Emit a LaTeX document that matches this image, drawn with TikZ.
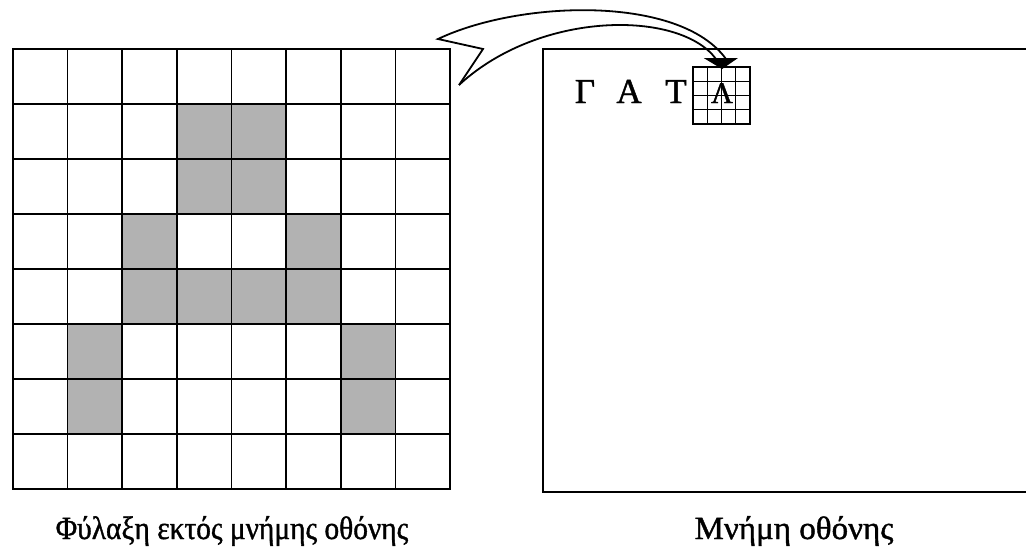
\documentclass[tikz,border=0pt]{standalone}
\usepackage{fontspec}
\setmainfont{Liberation Serif}
\newfontfamily\heavyserif[FakeBold=1.2]{Liberation Serif}
\begin{document}
\begin{tikzpicture}[x=1pt,y=-1pt,
  gridline/.style={line width=1.6pt},
  frame/.style={line width=2.2pt},
  shade/.style={fill=black!30},
  bigarrow/.style={line width=1.8pt,line join=miter},
  lbl/.style={anchor=base,inner sep=0pt,font=\heavyserif\fontsize{30}{32}\selectfont},
  letter/.style={anchor=base,inner sep=0pt,font=\heavyserif\fontsize{35}{38}\selectfont}]
\useasboundingbox (0,0) rectangle (1026,552);
\fill[white] (0,0) rectangle (1026,552);
% left 8x8 grid
\def\gx{13}\def\gy{49}\def\cs{54.625}
\foreach \r/\c in {1/3,1/4,2/3,2/4,3/2,3/5,4/2,4/3,4/4,4/5,5/1,5/6,6/1,6/6}{
  \fill[shade] ({\gx+\c*\cs},{\gy+\r*55}) rectangle ({\gx+(\c+1)*\cs},{\gy+(\r+1)*55});
}
\foreach \i in {1,...,7}{
  \draw[gridline] ({\gx+\i*\cs},\gy) -- ({\gx+\i*\cs},{\gy+440});
  \draw[gridline] (\gx,{\gy+\i*55}) -- ({\gx+8*\cs},{\gy+\i*55});
}
\draw[frame] (\gx,\gy) rectangle ({\gx+8*\cs},{\gy+440});
% right box (extends beyond the page edge)
\begin{scope}
\clip (0,0) rectangle (1026,552);
\draw[frame] (1040,49) -- (543,49) -- (543,492) -- (1040,492);
\end{scope}
% letters
\node[letter] (g) at (585,103) {Γ};
\node[letter] (a) at (629,103) {Α};
\node[letter] (t) at (676,103) {Τ};
% small 4x4 grid
\foreach \i in {1,2,3}{
  \draw[line width=1.2pt] ({693+\i*14.25},67) -- ({693+\i*14.25},124);
  \draw[line width=1.2pt] (693,{67+\i*14.25}) -- (750,{67+\i*14.25});
}
\draw[line width=2pt] (693,67) rectangle (750,124);
\node[anchor=base,inner sep=0pt,font=\heavyserif\fontsize{30}{32}\selectfont] (lam) at (722,103) {Λ};
% curved block arrow
\coordinate (tailU) at (438,39);
\coordinate (notch) at (483,49);
\coordinate (tailL) at (459,85);
\coordinate (shO) at (726,59);
\coordinate (shI) at (716,59);
\coordinate (hdR) at (735,59);
\coordinate (hdL) at (707,59);
\coordinate (tip) at (722,68);
\draw[bigarrow,fill=black] (hdL) -- (hdR) -- (tip) -- cycle;
\draw[bigarrow] (tailL) -- (notch) -- (tailU)
  .. controls (520,0) and (680,-5) .. (shO);
\draw[bigarrow] (tailL) .. controls (540,10) and (680,10) .. (shI);
% captions
\node[lbl] (capL) at (232,539) {\scalebox{0.98}[1.08]{Φύλαξη εκτός μνήμης οθόνης}};
\node[lbl] (capR) at (794,539) {\scalebox{1.1}[1.08]{Μνήμη οθόνης}};
\end{tikzpicture}
\end{document}
